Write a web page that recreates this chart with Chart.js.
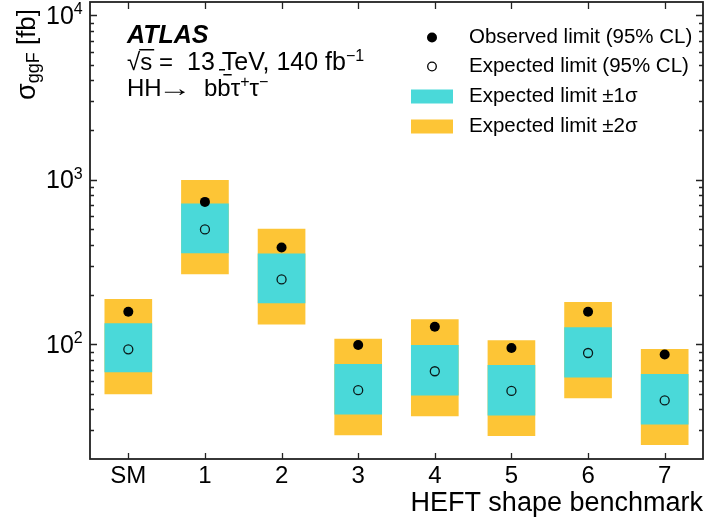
<!DOCTYPE html>
<html>
<head>
<meta charset="utf-8">
<script src="https://cdn.jsdelivr.net/npm/chart.js@4.4.1/dist/chart.umd.min.js"></script>
<style>
  html, body { margin: 0; padding: 0; background: #fff; }
  #wrap { width: 706px; height: 525px; }
</style>
</head>
<body>
<div id="wrap"><canvas id="chart" width="706" height="525"></canvas></div>
<script>
// values (fb)
const benchmarks = ['SM', '1', '2', '3', '4', '5', '6', '7'];
const observed = [157, 731, 386, 98.6, 127.5, 94.6, 157, 86.3];
const expected = [92.9, 497, 247, 52.4, 68.3, 51.9, 88.2, 45.4];
const sigma1Lo = [67.7, 358, 178, 37.5, 48.9, 37.0, 62.8, 32.6];
const sigma1Hi = [133, 711, 353, 75.3, 98.2, 74.3, 126, 65.5];
const sigma2Lo = [49.8, 267, 132, 28.0, 36.6, 27.7, 47.1, 24.4];
const sigma2Hi = [187, 990, 499, 107, 141, 105, 179, 92.9];
const yDecades = [100, 1000, 10000];
const yMin = 20;
const yMax = 12000;

const FONT = '"Liberation Sans", Arial, Helvetica, sans-serif';
const CYAN = '#4ad9d9';
const YELLOW = '#fdc536';

Chart.defaults.font.family = FONT;
Chart.defaults.color = '#000';

// draws a run of text pieces one after the other
// (x: fixed start, dy: raise/lower, sx: horizontal stretch, over: overline)
function drawRun(ctx, x, y, pieces) {
    pieces.forEach(p => {
        ctx.font = `${p.style || ''} ${p.size}px ${FONT}`;
        if (p.x !== undefined) x = p.x;
        const sx = p.sx || 1;
        const w = ctx.measureText(p.t).width * sx;
        ctx.save();
        ctx.translate(x, y + (p.dy || 0));
        ctx.scale(sx, 1);
        ctx.fillText(p.t, 0, 0);
        ctx.restore();
        if (p.over) {
            ctx.fillRect(x + p.over[0], y - p.over[1], w - p.over[0] + (p.over[2] || 0), 1.5);
        }
        x += w;
    });
    return x;
}

const decor = {
    id: 'decor',
    afterDraw(chart) {
        const ctx = chart.ctx;
        const a = chart.chartArea;
        const xs = chart.scales.x;
        const ys = chart.scales.y;
        ctx.save();

        // frame
        ctx.strokeStyle = '#222';
        ctx.lineWidth = 1.8;
        ctx.strokeRect(a.left, a.top, a.right - a.left, a.bottom - a.top);

        // y ticks, inside on both sides
        ctx.lineWidth = 1.3;
        ctx.beginPath();
        for (let d = 1; d <= 4; d++) {
            for (let m = 1; m <= 9; m++) {
                const v = m * Math.pow(10, d);
                if (v <= yMin || v > yMax) continue;
                const py = Math.round(ys.getPixelForValue(v)) + 0.5;
                const len = m === 1 ? 7 : 4;
                ctx.moveTo(a.left, py); ctx.lineTo(a.left + len, py);
                ctx.moveTo(a.right, py); ctx.lineTo(a.right - len, py);
            }
        }
        // x ticks, bottom and top
        benchmarks.forEach((b, i) => {
            const px = Math.round(xs.getPixelForValue(i)) + 0.5;
            ctx.moveTo(px, a.bottom); ctx.lineTo(px, a.bottom - 6);
            ctx.moveTo(px, a.top); ctx.lineTo(px, a.top + 7);
        });
        ctx.stroke();

        // y tick labels 10^n
        ctx.fillStyle = '#000';
        ctx.textAlign = 'left';
        ctx.textBaseline = 'alphabetic';
        yDecades.forEach(v => {
            const py = ys.getPixelForValue(v);
            drawRun(ctx, 46, py + 8.8, [
                { t: '10', size: 25 },
                { t: String(Math.round(Math.log10(v))), size: 16, dy: -9.5 }
            ]);
        });

        // y axis title, rotated
        ctx.save();
        ctx.translate(35, 100);
        ctx.rotate(-Math.PI / 2);
        drawRun(ctx, 0, 0, [
            { t: 'σ', size: 27 },
            { t: 'ggF', size: 18, dy: 4 },
            { t: ' [fb]', size: 26 }
        ]);
        ctx.restore();

        // experiment label
        drawRun(ctx, 127, 43, [{ t: 'ATLAS', size: 25, style: 'italic bold' }]);
        drawRun(ctx, 127, 70, [
            { t: '√', size: 24 },
            { t: 's', size: 24, over: [-1, 21, 2] },
            { t: '=', size: 24, x: 159 },
            { t: '13 TeV, 140 fb', size: 25, x: 187 },
            { t: '−1', size: 16, dy: -9.5 }
        ]);
        ctx.fillRect(219, 69, 6, 1.5);
        drawRun(ctx, 127, 96, [
            { t: 'HH', size: 24 },
            { t: '→', size: 24, x: 158, sx: 1.4 },
            { t: 'b', size: 24, x: 204 },
            { t: 'b', size: 24, over: [6, 22, 1] },
            { t: 'τ', size: 24 },
            { t: '+', size: 16, dy: -9.5 },
            { t: 'τ', size: 24 },
            { t: '−', size: 16, dy: -9.5 }
        ]);

        // legend
        const lx = 432, tx = 469;
        const rows = [37.5, 66.5, 96.5, 126.5];
        ctx.fillStyle = '#000';
        ctx.beginPath(); ctx.arc(lx, rows[0], 5, 0, Math.PI * 2); ctx.fill();
        ctx.strokeStyle = '#000'; ctx.lineWidth = 1.3;
        ctx.beginPath(); ctx.arc(lx, rows[1], 4.3, 0, Math.PI * 2); ctx.stroke();
        ctx.fillStyle = CYAN; ctx.fillRect(411, rows[2] - 7, 42, 14);
        ctx.fillStyle = YELLOW; ctx.fillRect(411, rows[3] - 7, 42, 14);
        ctx.fillStyle = '#000';
        ctx.textBaseline = 'middle';
        ctx.font = `20.5px ${FONT}`;
        chart.data.datasets.forEach((ds, i) => ctx.fillText(ds.label, tx, rows[i]));

        ctx.restore();
    }
};

new Chart(document.getElementById('chart'), {
    type: 'bar',
    data: {
        labels: benchmarks,
        datasets: [
            {
                type: 'line', label: 'Observed limit (95% CL)', data: observed,
                showLine: false, pointStyle: 'circle', pointRadius: 5,
                pointBackgroundColor: '#000', pointBorderColor: '#000', pointBorderWidth: 0, order: 0
            },
            {
                type: 'line', label: 'Expected limit (95% CL)', data: expected,
                showLine: false, pointStyle: 'circle', pointRadius: 4.5,
                pointBackgroundColor: 'rgba(0,0,0,0)', pointBorderColor: '#0a1a1a', pointBorderWidth: 1.3, order: 0
            },
            {
                label: 'Expected limit ±1σ', data: sigma1Lo.map((v, i) => [v, sigma1Hi[i]]),
                backgroundColor: CYAN, barThickness: 47, grouped: false, order: 1
            },
            {
                label: 'Expected limit ±2σ', data: sigma2Lo.map((v, i) => [v, sigma2Hi[i]]),
                backgroundColor: YELLOW, barThickness: 47, grouped: false, order: 2
            }
        ]
    },
    options: {
        responsive: false,
        devicePixelRatio: 1,
        animation: false,
        layout: { autoPadding: false, padding: { left: 0, right: 3, top: 2, bottom: 0 } },
        plugins: { legend: { display: false }, tooltip: { enabled: false } },
        scales: {
            x: {
                type: 'category',
                offset: true,
                grid: { display: false, drawTicks: false },
                border: { display: false },
                ticks: { font: { size: 24 }, color: '#000', padding: 3 },
                title: {
                    display: true, text: 'HEFT shape benchmark', align: 'end',
                    font: { size: 27 }, color: '#000', padding: { top: 0, bottom: 5 }
                },
                afterFit: s => { s.height = 66; }
            },
            y: {
                type: 'logarithmic',
                min: yMin,
                max: yMax,
                grid: { display: false, drawTicks: false },
                border: { display: false },
                ticks: { display: false },
                afterFit: s => { s.width = 90; }
            }
        }
    },
    plugins: [decor]
});
</script>
</body>
</html>
